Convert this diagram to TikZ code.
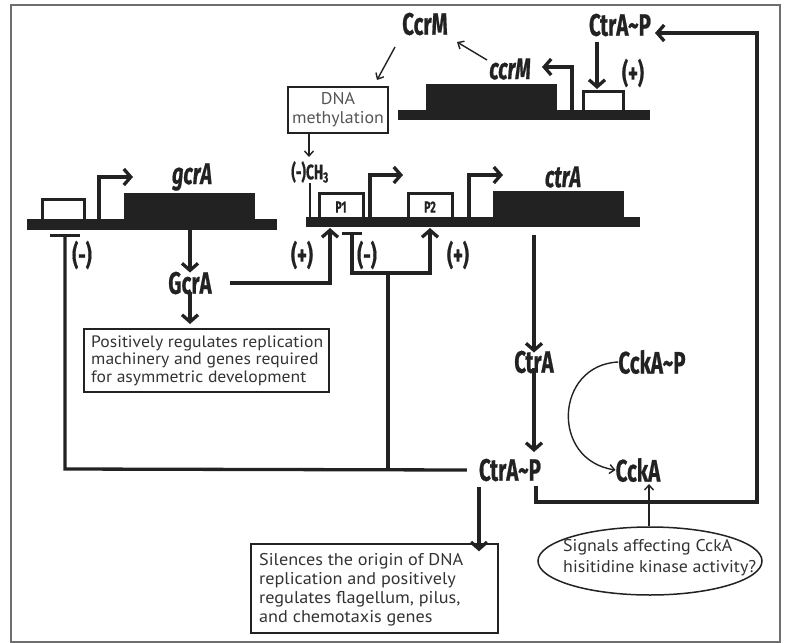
\documentclass[tikz,border=0pt]{standalone}
\usepackage{fontspec}
\usepackage{graphicx}
\usetikzlibrary{arrows.meta,shapes.geometric,calc}
\newfontfamily\labf[FakeStretch=0.66,FakeBold=0.6]{Fira Sans}
\newfontfamily\boxf{PT Sans}
\definecolor{ink}{HTML}{222222}
\definecolor{framec}{HTML}{6E6E6E}
\definecolor{boxtext}{HTML}{333333}
\definecolor{methtext}{HTML}{555555}
\newcommand{\fitlines}[2]{\resizebox{#1}{\height}{\begin{tabular}{@{}l@{}}#2\end{tabular}}}
\begin{document}
\begin{tikzpicture}[x=1pt,y=-1pt,
  lab/.style={font=\labf\bfseries\fontsize{31}{33}\selectfont, text=ink, inner sep=0pt},
  glab/.style={font=\labf\bfseries\itshape\fontsize{30}{32}\selectfont, text=ink, inner sep=0pt},
  sgn/.style={font=\labf\bfseries\fontsize{28}{30}\selectfont, text=ink, inner sep=0pt},
  plab/.style={font=\labf\bfseries\fontsize{16}{18}\selectfont, text=ink, inner sep=0pt},
  conn/.style={draw=ink, line width=3.3pt},
  tharrow/.style={draw=ink, line width=3.3pt, -{Straight Barb[length=7pt,width=16pt]}},
  tnarrow/.style={draw=ink, line width=1.4pt, -{Straight Barb[length=5pt,width=9pt]}},
  tbar/.style={draw=ink, line width=3.3pt, -{Bar[width=#1]}},
  promo/.style={draw=ink, line width=3pt, fill=white},
  framebox/.style={draw=ink, line width=1.5pt, inner sep=0pt},
  btext/.style={anchor=west, inner sep=0pt, text=boxtext},
]
\useasboundingbox (0,0) rectangle (785,643);
\draw[framec, line width=2pt] (11,5) rectangle (780,642);

% ---------- ccrM gene (top) ----------
\draw[promo] (583,91) rectangle (623,116);
\fill[ink] (426,84) rectangle (557,111);
\fill[ink] (398,110) rectangle (650,120);
\coordinate (ccrPs) at (572,110);
\coordinate (ccrPe) at (542,67);
\draw[tharrow] (ccrPs) |- (ccrPe);
\node[lab] (ctrapt) at (620,25) {CtrA\textasciitilde P};
\node[lab] (ccrm) at (425,24) {CcrM};
\node[glab] (ccrmg) at (510,69) {ccrM};
\node[sgn] (plustop) at (633,73) {(+)};
\coordinate (boxtopA) at (597,42);
\coordinate (boxtopB) at (597,89);
\draw[tharrow] (boxtopA) -- (boxtopB);
\coordinate (ccrmgA) at (487,60);
\coordinate (ccrmB) at (457,42);
\draw[tnarrow] (ccrmgA) -- (ccrmB);

% ---------- DNA methylation ----------
\node[framebox, minimum width=100pt, minimum height=46pt] (meth) at (338,110) {};
\node[inner sep=0pt, align=center, text=methtext, font=\boxf\fontsize{17}{19}\selectfont] (metht) at (338,110)
  {\resizebox{92pt}{\height}{\begin{tabular}{@{}c@{}}DNA\\methylation\end{tabular}}};
\coordinate (ccrmC) at (395,47);
\coordinate (methA) at (377,80);
\draw[tnarrow] (ccrmC) -- (methA);
\node[font=\labf\bfseries\fontsize{21}{23}\selectfont, text=ink, inner sep=0pt] (ch3) at (310,172) {(-)CH\textsubscript{3}};
\coordinate (methB) at (309,157);
\draw[tnarrow] (meth.south -| methB) -- (methB);
\coordinate (ch3b) at (310,217);
\draw[draw=ink, line width=1.5pt] (310,183) -- (ch3b);

% ---------- ctrA gene (middle) ----------
\draw[promo] (319,193) rectangle (363,222);
\draw[promo] (408,193) rectangle (452,222);
\node[plab] (p1) at (341,207) {P1};
\node[plab] (p2) at (430,207) {P2};
\fill[ink] (493,191) rectangle (624,218);
\fill[ink] (306,217) rectangle (640,227);
\coordinate (ctrP1s) at (370,217);
\coordinate (ctrP1e) at (403,175);
\draw[tharrow] (ctrP1s) |- (ctrP1e);
\coordinate (ctrP2s) at (469,217);
\coordinate (ctrP2e) at (503,175);
\draw[tharrow] (ctrP2s) |- (ctrP2e);
\node[glab] (ctratxt) at (563,177) {ctrA};

% ---------- gcrA gene (left) ----------
\draw[promo] (42,199) rectangle (84,224);
\fill[ink] (124,193) rectangle (255,220);
\fill[ink] (27,219) rectangle (277,230);
\coordinate (gcrPs) at (99,219);
\coordinate (gcrPe) at (133,177);
\draw[tharrow] (gcrPs) |- (gcrPe);
\node[glab] (gcratxt) at (192,177) {gcrA};

% ---------- GcrA ----------
\node[lab] (GcrA) at (190,283) {GcrA};
\coordinate (gcrbar) at (190,230);
\draw[tharrow] (gcrbar) -- ([yshift=-1pt]GcrA.north);
\node[framebox, minimum width=245pt, minimum height=63pt] (pos) at (206.5,360.5) {};
\node[btext, font=\boxf\fontsize{16.5}{17.5}\selectfont] (post) at (91,361)
  {\fitlines{232pt}{Positively regulates replication\\machinery and genes required\\for asymmetric development}};
\coordinate (posin) at (190,324);
\draw[tharrow] ([yshift=2pt]GcrA.south) -- (posin);
\coordinate (p1in) at (330,228);
\draw[tharrow] ([xshift=18pt]GcrA.east) -| (p1in);
\node[sgn] (plus1) at (302,255) {(+)};
\node[sgn] (minus1) at (367,255) {(-)};
\node[sgn] (plus2) at (458,255) {(+)};
\node[sgn] (minusg) at (82,255) {(-)};

% ---------- CtrA, CtrA~P ----------
\node[lab] (CtrA) at (534,362) {CtrA};
\node[lab] (CtrAP) at (510,470) {CtrA\textasciitilde P};
\node[lab] (CckAP) at (652,362) {CckA\textasciitilde P};
\node[lab] (CckA) at (638,470) {CckA};
\coordinate (ctrbar) at (534,235);
\draw[tharrow] (ctrbar) -- ([yshift=-2pt]CtrA.north);
\coordinate (ctrapin) at (534,452);
\draw[tharrow] ([yshift=5pt]CtrA.south) -- (ctrapin);

% feedback
\coordinate (junc) at (388,273);
\coordinate (fbL) at (65,469);
\coordinate (fbM) at (388,469);
\coordinate (tbarM) at (352,232);
\coordinate (p2in) at (430,228);
\coordinate (tbarG) at (65,234);
\draw[conn] (fbM) -- (junc);
\draw[tbar=20pt] (junc) -| (tbarM);
\draw[tharrow] (junc) -| (p2in);
\draw[tbar=30pt] ([xshift=-12pt]CtrAP.west) -- (fbL) -- (tbarG);

% loop to top
\coordinate (loopA) at (536,486);
\coordinate (loopB) at (757,502);
\coordinate (loopC) at (655,33);
\draw[tharrow] (loopA) |- (loopB) |- (loopC);

% Silences box
\node[framebox, minimum width=247pt, minimum height=89pt] (sil) at (374.5,588.5) {};
\node[btext, font=\boxf\fontsize{17}{19}\selectfont] (silt) at (259,590)
  {\fitlines{204pt}{Silences the origin of DNA\\replication and positively\\regulates flagellum, pilus,\\and chemotaxis genes}};
\coordinate (silA) at (479,487);
\draw[tharrow] (silA) -- ([yshift=-8pt]sil.north -| silA);

% CckA
\draw[tnarrow] (CckAP.west) .. controls (555,365) and (550,460) .. (CckA.west);
\node[draw=ink, line width=1.5pt, ellipse, minimum width=224pt, minimum height=68pt, inner sep=0pt] (sig) at (650,561) {};
\node[btext, font=\boxf\fontsize{17}{21}\selectfont] (sigt) at (563,558)
  {\fitlines{193pt}{Signals affecting CckA\\hisitidine kinase activity?}};
\coordinate (cckin) at (649,484);
\draw[tnarrow] (sig.north -| cckin) -- (cckin);
\end{tikzpicture}
\end{document}
